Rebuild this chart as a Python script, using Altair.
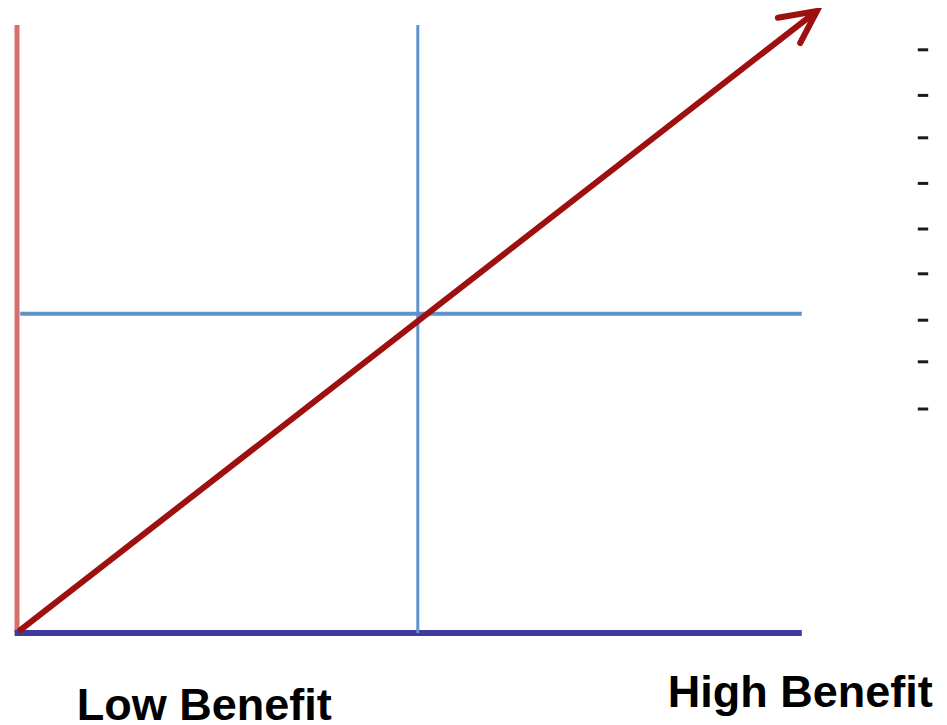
import altair as alt
import pandas as pd

# Diagram units: 1 unit = 8 px; origin at the lower-left corner of the axes
# Straight segments of the diagram
seg_names = ["left_axis", "bottom_axis", "mid_vertical", "mid_horizontal"]
seg_x1 = [0.0, -0.3, 50.1, 0.4]
seg_x2 = [0.0, 98.1, 50.1, 98.1]
seg_y1 = [0.1, 0.0, 0.0, 39.9]
seg_y2 = [76.0, 0.0, 76.0, 39.9]
seg_colors = ["#d4706d", "#3d3c9d", "#5f93cc", "#5f93cc"]
seg_widths = [5, 6, 3, 4]

# Arrow (shaft + chevron head)
shaft_x = [0.2, 99.4]
shaft_y = [0.2, 77.3]
head_x = [95.1, 100.0, 97.9]
head_y = [76.9, 77.75, 73.75]

# Bullet dashes at the right edge
dash_y = [78.4, 72.9, 67.2, 61.9, 56.2, 50.5, 44.9, 39.1, 33.9, 28.0]
dash_x1 = 112.6
dash_x2 = 113.9

# Labels
label_text = ["Low Benefit", "High Benefit"]
label_x = [23.4, 97.9]
label_y = [-10.9, -9.2]

W, H = 931, 717
xdom = [-1.125, 115.25]
ydom = [-11.5, 78.125]
xs = alt.Scale(domain=xdom, nice=False, zero=False)
ys = alt.Scale(domain=ydom, nice=False, zero=False)

def X(f, **kw):
    return alt.X(f, type="quantitative", scale=xs, axis=None, **kw)

def Y(f, **kw):
    return alt.Y(f, type="quantitative", scale=ys, axis=None, **kw)

layers = []
for i, name in enumerate(seg_names):
    d = pd.DataFrame({"x1": [seg_x1[i]], "x2": [seg_x2[i]], "y1": [seg_y1[i]], "y2": [seg_y2[i]]})
    layers.append(
        alt.Chart(d).mark_rule(color=seg_colors[i], strokeWidth=seg_widths[i], strokeCap="butt")
        .encode(x=X("x1"), x2="x2", y=Y("y1"), y2="y2")
    )

shaft = pd.DataFrame({"x1": [shaft_x[0]], "x2": [shaft_x[1]], "y1": [shaft_y[0]], "y2": [shaft_y[1]]})
layers.append(
    alt.Chart(shaft).mark_rule(color="#9e0f0f", strokeWidth=6, strokeCap="butt")
    .encode(x=X("x1"), x2="x2", y=Y("y1"), y2="y2")
)
head = pd.DataFrame({"x": head_x, "y": head_y, "o": list(range(len(head_x)))})
layers.append(
    alt.Chart(head).mark_line(color="#9e0f0f", strokeWidth=6, strokeJoin="miter", strokeCap="round")
    .encode(x=X("x"), y=Y("y"), order="o:Q")
)

dashes = pd.DataFrame({"y": dash_y, "x1": dash_x1, "x2": dash_x2})
layers.append(
    alt.Chart(dashes).mark_rule(color="#1a1a1a", strokeWidth=3, strokeCap="butt")
    .encode(x=X("x1"), x2="x2", y=Y("y"))
)

labels = pd.DataFrame({"t": label_text, "x": label_x, "y": label_y})
layers.append(
    alt.Chart(labels).mark_text(font="Liberation Sans", fontWeight="bold", fontSize=45,
                                 align="center", baseline="alphabetic", color="#000000")
    .encode(x=X("x"), y=Y("y"), text="t:N")
)

chart = (
    alt.layer(*layers)
    .properties(width=W, height=H, padding=0, autosize=alt.AutoSizeParams(type="none"),
                background="white")
    .configure_view(stroke=None)
)

chart.save("out.html", embed_options={"renderer": "svg", "actions": False})
